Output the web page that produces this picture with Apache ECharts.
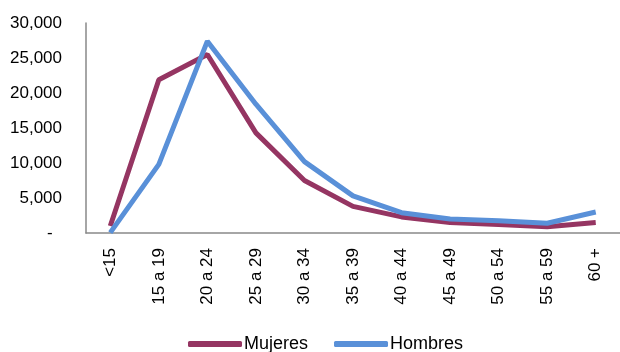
<!DOCTYPE html>
<html><head><meta charset="utf-8">
<script src="https://cdn.jsdelivr.net/npm/echarts@6/dist/echarts.min.js"></script>
<style>html,body{margin:0;padding:0;background:#fff}#c{width:620px;height:352px}</style>
</head><body><div id="c"></div>
<script>
var categories = ['<15','15 a 19','20 a 24','25 a 29','30 a 34','35 a 39','40 a 44','45 a 49','50 a 54','55 a 59','60 +'];
var mujeres = [1000,21900,25500,14300,7500,3800,2300,1500,1200,900,1500];
var hombres = [50,9800,27400,18400,10200,5300,2900,2000,1750,1400,3000];
var seriesNames = ['Mujeres','Hombres'];
var FONT = '"Liberation Sans",Arial,sans-serif';
var chart = echarts.init(document.getElementById('c'));
chart.setOption({
  animation:false,
  grid:{left:86,top:23,bottom:119,right:-8,containLabel:false},
  legend:{bottom:-6,left:183,itemWidth:54,itemHeight:6,itemGap:26,icon:'roundRect',
    textStyle:{fontFamily:FONT,fontSize:18,color:'#000',padding:[0,0,0,-3]},data:seriesNames},
  xAxis:{type:'category',data:categories,boundaryGap:true,
    axisLine:{lineStyle:{color:'#898989',width:1.5}},axisTick:{show:false},
    axisLabel:{rotate:90,margin:15,fontFamily:FONT,fontSize:17,color:'#000',interval:0}},
  yAxis:{type:'value',min:0,max:30000,interval:5000,
    axisLine:{show:true,lineStyle:{color:'#898989',width:1.5}},axisTick:{show:false},splitLine:{show:false},
    axisLabel:{margin:24,fontFamily:FONT,fontSize:17,color:'#000',
      formatter:function(v){return v===0?'-  ':v.toLocaleString('en-US');}}},
  series:[
    {name:seriesNames[0],type:'line',data:mujeres,symbol:'none',lineStyle:{color:'#953562',width:5},itemStyle:{color:'#953562'}},
    {name:seriesNames[1],type:'line',data:hombres,symbol:'none',lineStyle:{color:'#5990D8',width:5},itemStyle:{color:'#5990D8'}}
  ]
});
</script></body></html>
